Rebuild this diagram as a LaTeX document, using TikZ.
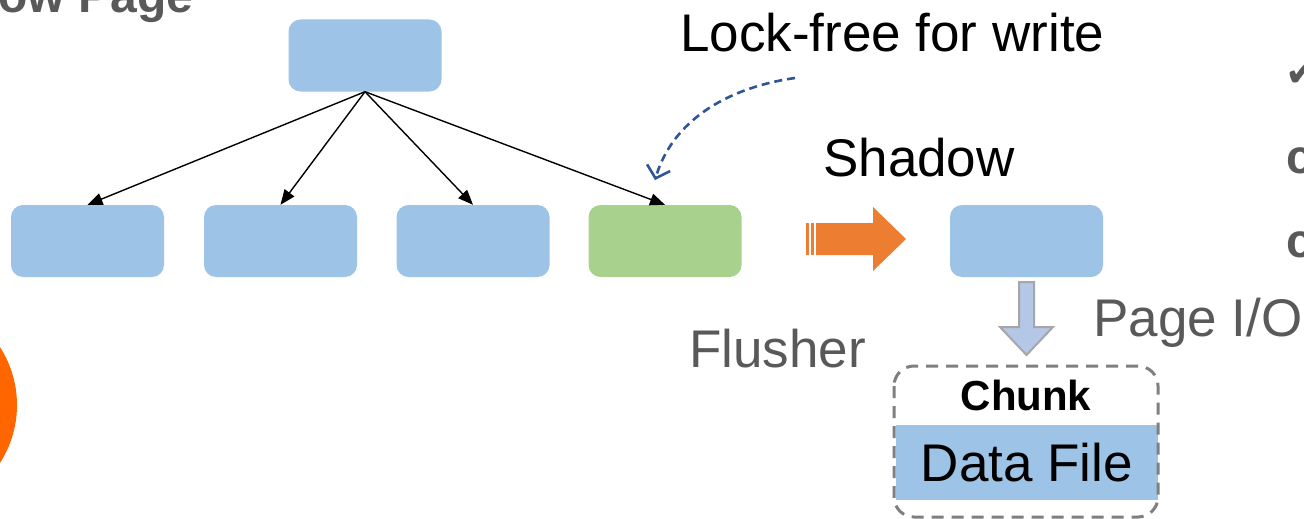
\documentclass[tikz,border=0pt]{standalone}
\usepackage{fontspec}
\setmainfont{Liberation Sans}
\newfontfamily\symfont{DejaVu Sans}
\usetikzlibrary{arrows.meta}

\definecolor{pageblue}{HTML}{9DC3E6}
\definecolor{pagegreen}{HTML}{A9D18E}
\definecolor{flushorange}{HTML}{ED7D31}
\definecolor{hintblue}{HTML}{2F5597}
\definecolor{textgray}{HTML}{595959}
\definecolor{ioblue}{HTML}{B4C7E7}
\definecolor{iogray}{HTML}{A6A6A6}
\definecolor{chunkgray}{HTML}{7F7F7F}
\definecolor{dotorange}{HTML}{FF6600}

\tikzset{
  pagebox/.style={fill=pageblue, rounded corners=12pt, minimum width=153pt,
    minimum height=72pt, inner sep=0pt},
  dirtybox/.style={pagebox, fill=pagegreen},
  treelink/.style={line width=1.4pt, -{Triangle[length=15pt,width=12pt]}},
  hintlink/.style={hintblue, line width=2.6pt, dash pattern=on 8pt off 5pt,
    -{Straight Barb[length=11pt,width=24pt]}},
  label/.style={inner sep=0pt, anchor=base west, font=\fontsize{53}{60}\selectfont},
  graylabel/.style={label, text=textgray},
  sidelabel/.style={inner sep=0pt, anchor=base west, text=textgray,
    font=\fontsize{48}{56}\selectfont\bfseries},
}

\begin{document}
\begin{tikzpicture}[x=1pt,y=-1pt]
\useasboundingbox (0,0) rectangle (1304,519);

% orange dot at the left edge
\fill[dotorange] (-90,405) circle (107);

% section title, running off the top edge
\node[inner sep=0pt, anchor=base west, text=textgray,
  font=\fontsize{48}{56}\selectfont\bfseries] (title) at (-119,13) {Shadow Page};

% page tree
\node[pagebox] (root) at (365,55.5) {};
\node[pagebox] (p1) at (87.5,241) {};
\node[pagebox] (p2) at (280.5,241) {};
\node[pagebox] (p3) at (473,241) {};
\node[dirtybox] (p4) at (665,241) {};

\foreach \leaf in {p1,p2,p3,p4}
  \draw[treelink] (root.south) -- (\leaf.north);

% lock-free hint
\node[label] (lockfree) at (680,52) {Lock-free for write};
\coordinate (hintstart) at (795,78);
\coordinate (hintend) at (655,180);
\draw[hintlink] (hintstart) .. controls (725,88) and (672,122) .. (hintend);

% flusher block arrow
\fill[flushorange] (806,223) rectangle (809,255);
\fill[flushorange] (811,223) rectangle (814,255);
\fill[flushorange] (816,223) -- (873,223) -- (873,207) -- (906,239)
  -- (873,271) -- (873,255) -- (816,255) -- cycle;
\node[graylabel] (flusher) at (689,367) {Flusher};

% shadow page
\node[pagebox] (shadow) at (1026.5,241) {};
\node[label] (shadowlbl) at (823,176) {Shadow};

% page I/O arrow
\draw[iogray, fill=ioblue, line width=2pt, line join=miter]
  (1019,282) -- (1034,282) -- (1034,327) -- (1053,327) -- (1026.5,355)
  -- (1000,327) -- (1019,327) -- cycle;
\node[graylabel] (pageio) at (1093,336) {Page I/O};

% chunk with its data file
\node[fill=pageblue, minimum width=262pt, minimum height=75pt, inner sep=0pt,
  font=\fontsize{53}{60}\selectfont] (data) at (1027,462.5) {Data File};
\draw[chunkgray, line width=3pt, dash pattern=on 12pt off 8pt, rounded corners=20pt]
  (894,366) rectangle (1158,517);
\node[inner sep=0pt, anchor=base, font=\fontsize{42}{50}\selectfont\bfseries]
  (chunk) at (1026,410) {Chunk};

% side notes, running off the right edge
\node[inner sep=0pt, anchor=base west, text=textgray,
  font=\fontsize{40}{48}\selectfont\symfont] (tick) at (1285,86) {✔};
\node[sidelabel] (note1) at (1286,173) {c};
\node[sidelabel] (note2) at (1286,257) {c};
\end{tikzpicture}
\end{document}
